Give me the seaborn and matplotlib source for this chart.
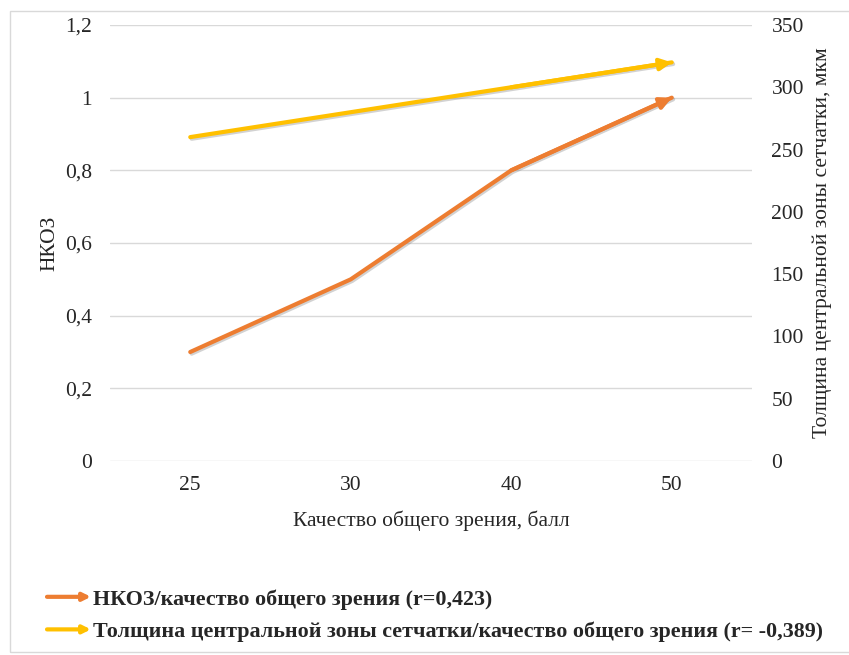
import matplotlib
matplotlib.use("Agg")
import matplotlib.pyplot as plt
import matplotlib.patheffects as pe
import seaborn as sns
import numpy as np
from matplotlib.patches import FancyArrowPatch, Rectangle
from matplotlib.legend_handler import HandlerBase
from matplotlib.lines import Line2D
from matplotlib.ticker import FuncFormatter

categories = ["25", "30", "40", "50"]
nkoz = [0.3, 0.5, 0.8, 1.0]
thickness = [260, 280, 300, 320]
left_ticks = [0, 0.2, 0.4, 0.6, 0.8, 1.0, 1.2]
right_ticks = [0, 50, 100, 150, 200, 250, 300, 350]
label_nkoz = "НКОЗ/качество общего зрения (r=0,423)"
label_thick = "Толщина центральной зоны сетчатки/качество общего зрения (r= -0,389)"

ORANGE = "#ED7D31"
YELLOW = "#FFC000"
TXT = "#262626"
FS = 15.5
LW = 3.0

sns.set_theme(style="white")
plt.rcParams['font.family'] = ['Liberation Serif', 'DejaVu Serif']

fig = plt.figure(figsize=(8.49, 6.55), dpi=100)
ax = fig.add_axes([110/849, 1-461/655, (752-110)/849, (461-25)/655])
ax2 = ax.twinx()

pos = np.arange(len(categories))
shadow = [pe.SimpleLineShadow(offset=(1, -1.2), shadow_color="gray", alpha=0.35), pe.Normal()]

sns.lineplot(x=pos, y=nkoz, ax=ax, color=ORANGE, linewidth=LW, zorder=3)
sns.lineplot(x=pos, y=thickness, ax=ax2, color=YELLOW, linewidth=LW, zorder=3)
for a in (ax, ax2):
    for ln in a.get_lines():
        ln.set_path_effects(shadow)
        ln.set_solid_capstyle("round")

for a, vals, col in [(ax, nkoz, ORANGE), (ax2, thickness, YELLOW)]:
    ann = a.annotate("", xy=(pos[-1], vals[-1]), xytext=(pos[-2], vals[-2]),
                     arrowprops=dict(arrowstyle="-|>", color=col, lw=LW,
                                     shrinkA=0, shrinkB=0, mutation_scale=17),
                     zorder=4)
    ann.arrow_patch.set_path_effects([pe.SimplePatchShadow(offset=(1, -1.2), shadow_rgbFace="gray", alpha=0.35), pe.Normal()])

ax.set_xlim(-0.5, len(categories) - 0.5)
ax.set_ylim(0, 1.2)
ax2.set_ylim(0, 350)
ax.set_xticks(pos)
ax.set_xticklabels(categories)
ax.set_yticks(left_ticks)
ax.yaxis.set_major_formatter(FuncFormatter(lambda v, p: ("%g" % round(v, 1)).replace(".", ",")))
ax2.set_yticks(right_ticks)

ax.grid(axis="y", color="#d9d9d9", linewidth=1.0)
ax.grid(axis="x", visible=False)
ax2.grid(False)
for a in (ax, ax2):
    for s in a.spines.values():
        s.set_visible(False)
    a.tick_params(length=0, labelsize=FS, colors=TXT)
ax.tick_params(axis="y", pad=13)
ax.tick_params(axis="x", pad=11)
ax2.tick_params(axis="y", pad=14)

ax.set_ylabel("НКОЗ", fontsize=FS, color=TXT, labelpad=4)
ax.set_xlabel("Качество общего зрения, балл", fontsize=FS, color=TXT, labelpad=11)
ax2.set_ylabel("Толщина центральной зоны сетчатки, мкм", fontsize=FS, color=TXT, labelpad=6)


class ArrowHandler(HandlerBase):
    def create_artists(self, legend, orig_handle, xdescent, ydescent, width,
                       height, fontsize, trans):
        y = height / 2 - ydescent
        p = FancyArrowPatch((-xdescent, y), (width - xdescent, y),
                            arrowstyle="-|>", mutation_scale=11,
                            color=orig_handle.get_color(), lw=LW,
                            shrinkA=0, shrinkB=0)
        p.set_transform(trans)
        return [p]


h1 = Line2D([], [], color=ORANGE)
h2 = Line2D([], [], color=YELLOW)
leg = fig.legend([h1, h2], [label_nkoz, label_thick],
                 handler_map={Line2D: ArrowHandler()},
                 loc="upper left", bbox_to_anchor=(47/849, 1-589/655),
                 frameon=False, handlelength=2.0, handletextpad=0.1,
                 labelspacing=0.55, borderpad=0, borderaxespad=0,
                 prop={"family": "Liberation Serif", "weight": "bold", "size": 15.8})

fig.patches.append(Rectangle((10/849, 3/655), 845/849, 641/655, transform=fig.transFigure,
                             fill=False, edgecolor="#d9d9d9", linewidth=1.0))

fig.savefig("out.png", dpi=100)
